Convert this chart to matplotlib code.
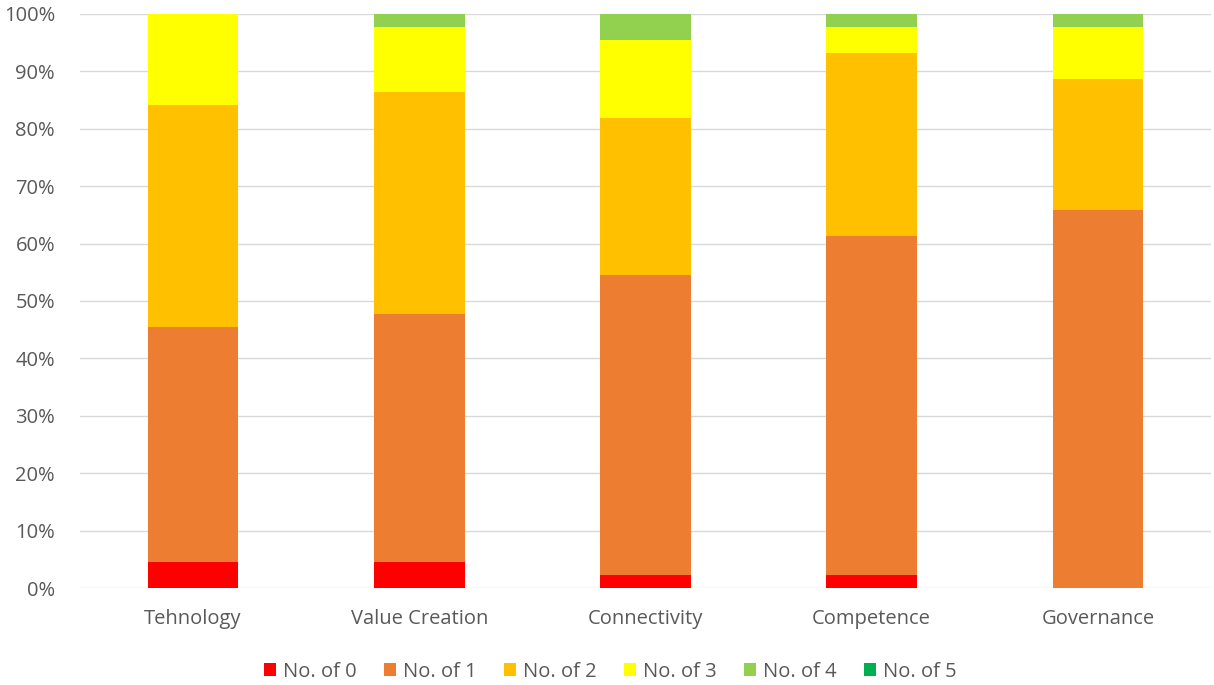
import numpy as np
import matplotlib.pyplot as plt
from matplotlib.ticker import PercentFormatter

# Datos (conteos por categoria, total 44 en cada una)
categorias = ['Tehnology', 'Value Creation', 'Connectivity', 'Competence', 'Governance']
series = ['No. of 0', 'No. of 1', 'No. of 2', 'No. of 3', 'No. of 4', 'No. of 5']
n0 = [2, 2, 1, 1, 0]
n1 = [18, 19, 23, 26, 29]
n2 = [17, 17, 12, 14, 10]
n3 = [7, 5, 6, 2, 4]
n4 = [0, 1, 2, 1, 1]
n5 = [0, 0, 0, 0, 0]
colores = ['#FF0000', '#ED7D31', '#FFC000', '#FFFF00', '#92D050', '#00B050']

plt.rcParams['font.family'] = ['Open Sans', 'DejaVu Sans']

datos = np.array([n0, n1, n2, n3, n4, n5], dtype=float)
pct = datos / datos.sum(axis=0) * 100

fig = plt.figure(figsize=(12.14, 6.85), dpi=100)
ax = fig.add_axes([0.0659, 0.1416, 0.9316, 0.838])

x = np.arange(len(categorias))
base = np.zeros(len(categorias))
for fila, nombre, color in zip(pct, series, colores):
    ax.bar(x, fila, bottom=base, width=0.4, color=color, label=nombre, zorder=3)
    base += fila

ax.set_xlim(-0.5, len(categorias) - 0.5)
ax.set_ylim(0, 100)
ax.set_yticks(range(0, 101, 10))
ax.yaxis.set_major_formatter(PercentFormatter(decimals=0))
ax.grid(axis='y', color='#D9D9D9', linewidth=1, zorder=0)
for s in ax.spines.values():
    s.set_visible(False)
ax.set_xticks(x)
ax.set_xticklabels(categorias)
ax.tick_params(axis='both', length=0, labelsize=14.5, labelcolor='#595959')
ax.tick_params(axis='x', pad=15)
ax.tick_params(axis='y', pad=18)

fig.legend(loc='lower center', bbox_to_anchor=(0.503, -0.022), ncol=6, frameon=False,
           fontsize=14.5, labelcolor='#595959', handlelength=0.6, handleheight=0.6,
           handletextpad=0.35, columnspacing=1.35)

plt.savefig('out.png', dpi=100)
